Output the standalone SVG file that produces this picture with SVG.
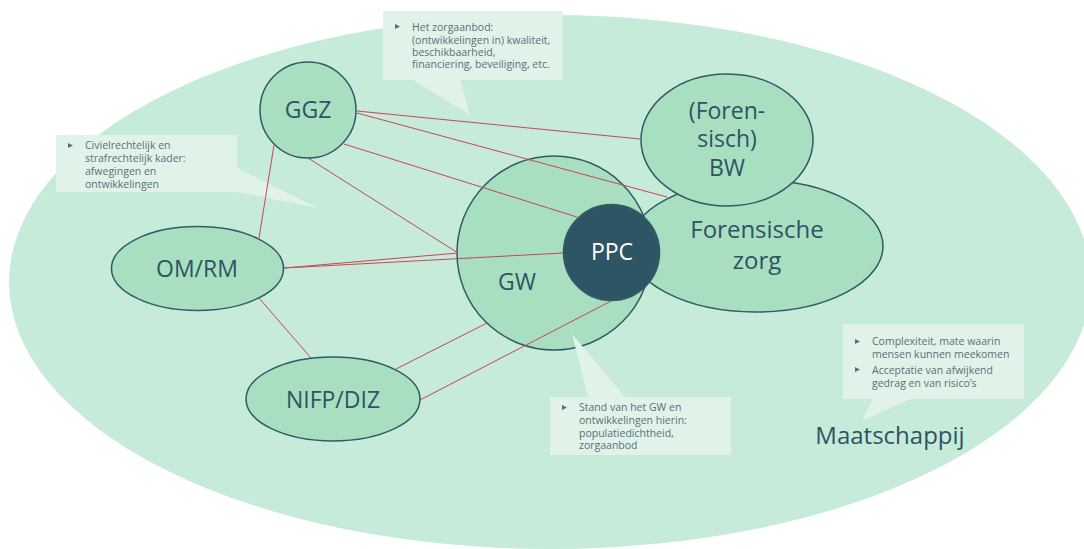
<svg xmlns="http://www.w3.org/2000/svg" width="1084" height="549" viewBox="0 0 1084 549">
<style>
.bg{fill:#c6ebd8}
.node{fill:#a9dfc1;stroke:#2f5b66;stroke-width:1.5}
.ppc{fill:#2e5564;stroke:#2f5b66;stroke-width:1.5}
.lbl{font-family:"Open Sans","Noto Sans",sans-serif;font-size:23px;fill:#2d5463;text-anchor:middle}
.wl{fill:#ffffff}
.call{fill:#e1f3e9}
.ct{font-family:"Open Sans","Noto Sans",sans-serif;font-size:10.5px;fill:#55707a}
.bul{fill:#55707a}
.conn line{stroke:#c5455e;stroke-width:1}
</style>
<rect width="1084" height="549" fill="#ffffff"/>
<ellipse class="bg" cx="550" cy="282" rx="541" ry="267"/>

<g id="callout-zorgaanbod">
<path class="call" d="M383 11 H563 V80 H460 L470 115 L413 80 H383 Z"/>
<path class="bul" d="M395 24 L400 26.5 L395 29 Z"/>
<text class="ct" x="412" y="31">Het zorgaanbod:</text>
<text class="ct" x="412" y="43.5">(ontwikkelingen in) kwaliteit,</text>
<text class="ct" x="412" y="56">beschikbaarheid,</text>
<text class="ct" x="412" y="68">financiering, beveiliging, etc.</text>
</g>

<g id="callout-kader">
<path class="call" d="M56 135 H237 V168 L318 208 L237 192 H56 Z"/>
<path class="bul" d="M68 143 L73 145.5 L68 148 Z"/>
<text class="ct" x="85" y="149">Civielrechtelijk en</text>
<text class="ct" x="85" y="162">strafrechtelijk kader:</text>
<text class="ct" x="85" y="175">afwegingen en</text>
<text class="ct" x="85" y="187.5">ontwikkelingen</text>
</g>

<g id="node-fz">
<ellipse class="node" cx="756" cy="246" rx="127" ry="66"/>
<text class="lbl" x="757" y="238" style="font-size:24px">Forensische</text>
<text class="lbl" x="757" y="269" style="font-size:24px">zorg</text>
</g>

<g id="node-gw">
<circle class="node" cx="554" cy="253" r="97"/>
<text class="lbl" x="517" y="290">GW</text>
</g>

<g class="conn" id="connectors">
<line x1="357" y1="111" x2="640" y2="139"/>
<line x1="357" y1="113" x2="667" y2="197"/>
<line x1="344" y1="144" x2="577" y2="217"/>
<line x1="308" y1="158" x2="458" y2="253"/>
<line x1="274" y1="145" x2="259" y2="238"/>
<line x1="284" y1="268" x2="458" y2="253"/>
<line x1="284" y1="268" x2="563" y2="253"/>
<line x1="259" y1="298" x2="311" y2="358"/>
<line x1="396" y1="369" x2="487" y2="323"/>
<line x1="420" y1="400" x2="613" y2="300"/>
</g>

<g id="node-bw">
<ellipse class="node" cx="727" cy="140" rx="86" ry="66"/>
<text class="lbl" x="727" y="119">(Foren-</text>
<text class="lbl" x="727" y="147">sisch)</text>
<text class="lbl" x="727" y="176">BW</text>
</g>

<g id="node-ppc">
<circle class="ppc" cx="611.5" cy="252.5" r="48"/>
<text class="lbl wl" x="612" y="260">PPC</text>
</g>

<g id="node-ggz">
<circle class="node" cx="308" cy="110" r="48"/>
<text class="lbl" x="308" y="118">GGZ</text>
</g>

<g id="node-omrm">
<ellipse class="node" cx="197.5" cy="268.5" rx="86" ry="42"/>
<text class="lbl" x="197" y="277">OM/RM</text>
</g>

<g id="node-nifp">
<ellipse class="node" cx="333" cy="399" rx="87" ry="42"/>
<text class="lbl" x="333" y="408">NIFP/DIZ</text>
</g>

<g id="callout-gw">
<path class="call" d="M550 397 H588 L572 334 L625 397 H731 V455 H550 Z"/>
<path class="bul" d="M562 405 L567 407.5 L562 410 Z"/>
<text class="ct" x="579" y="411">Stand van het GW en</text>
<text class="ct" x="579" y="424">ontwikkelingen hierin:</text>
<text class="ct" x="579" y="437">populatiedichtheid,</text>
<text class="ct" x="579" y="449">zorgaanbod</text>
</g>

<g id="callout-maatschappij">
<path class="call" d="M843 324 H1024 V399 H910 L862 421 L873 399 H843 Z"/>
<path class="bul" d="M855 339 L860 341.5 L855 344 Z"/>
<text class="ct" x="872" y="345">Complexiteit, mate waarin</text>
<text class="ct" x="872" y="357.5">mensen kunnen meekomen</text>
<path class="bul" d="M855 367 L860 369.5 L855 372 Z"/>
<text class="ct" x="872" y="374">Acceptatie van afwijkend</text>
<text class="ct" x="872" y="387">gedrag en van risico’s</text>
</g>

<g id="label-maatschappij">
<text class="lbl" x="890" y="444" style="font-size:24px">Maatschappij</text>
</g>
</svg>
